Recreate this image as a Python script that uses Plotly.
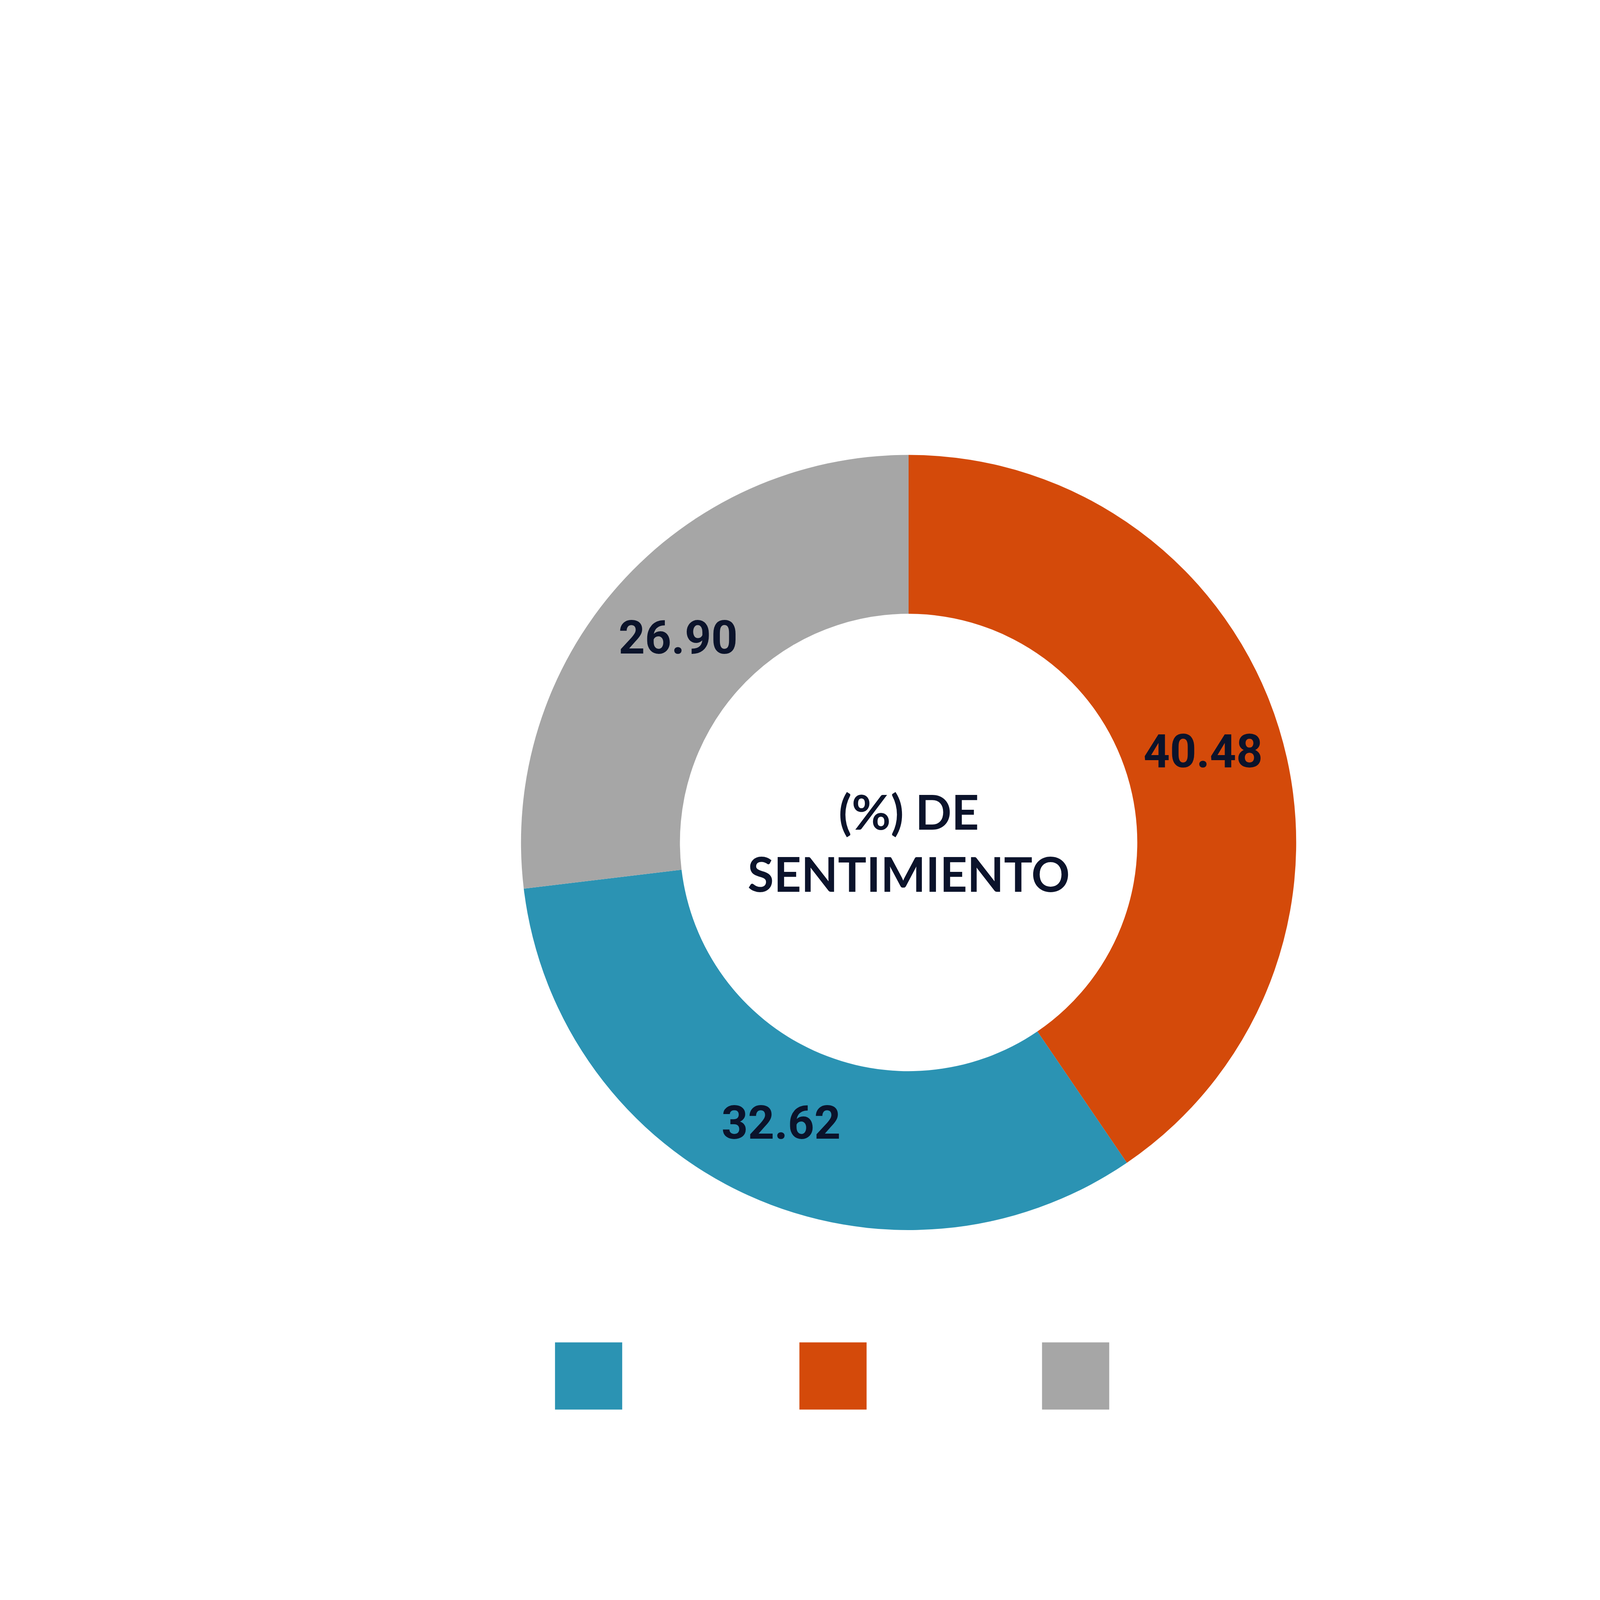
import plotly.graph_objects as go

labels = ["Negativo", "Positivo", "Neutral"]
values = [40.48, 32.62, 26.90]
colors = ["#D44A0A", "#2B93B3", "#A6A6A6"]
text_labels = ["40.48", "32.62", "26.90"]
legend_x = [0.333, 0.472, 0.610]
legend_order = [1, 0, 2]

fig = go.Figure()
fig.add_trace(go.Pie(
    labels=labels, values=values, sort=False, direction="clockwise", rotation=0,
    hole=0.59, marker=dict(colors=colors), text=["<b>%s</b>" % t for t in text_labels],
    textinfo="text", textposition="inside", insidetextorientation="horizontal",
    textfont=dict(family="Roboto, Liberation Sans Narrow", size=118, color="#0B132B"),
    domain=dict(x=[0.294, 0.736], y=[0.302, 0.743]), showlegend=False,
))
fig.add_trace(go.Scatter(
    x=legend_x, y=[0.219] * 3, mode="markers", showlegend=False, hoverinfo="skip",
    marker=dict(symbol="square", size=172, color=[colors[i] for i in legend_order]),
))
fig.update_xaxes(visible=False, range=[0, 1], domain=[0, 1])
fig.update_yaxes(visible=False, range=[0, 1], domain=[0, 1])
fig.add_annotation(text="<b>(%) DE<br>SENTIMIENTO</b>", x=0.515, y=0.5225, xref="paper", yref="paper",
                   showarrow=False, font=dict(family="Lato, Noto Sans", size=122, color="#0B132B"))
fig.update_layout(width=4501, height=4500, margin=dict(l=0, r=0, t=0, b=0),
                  paper_bgcolor="white", plot_bgcolor="white")
fig.write_html("out.html")
